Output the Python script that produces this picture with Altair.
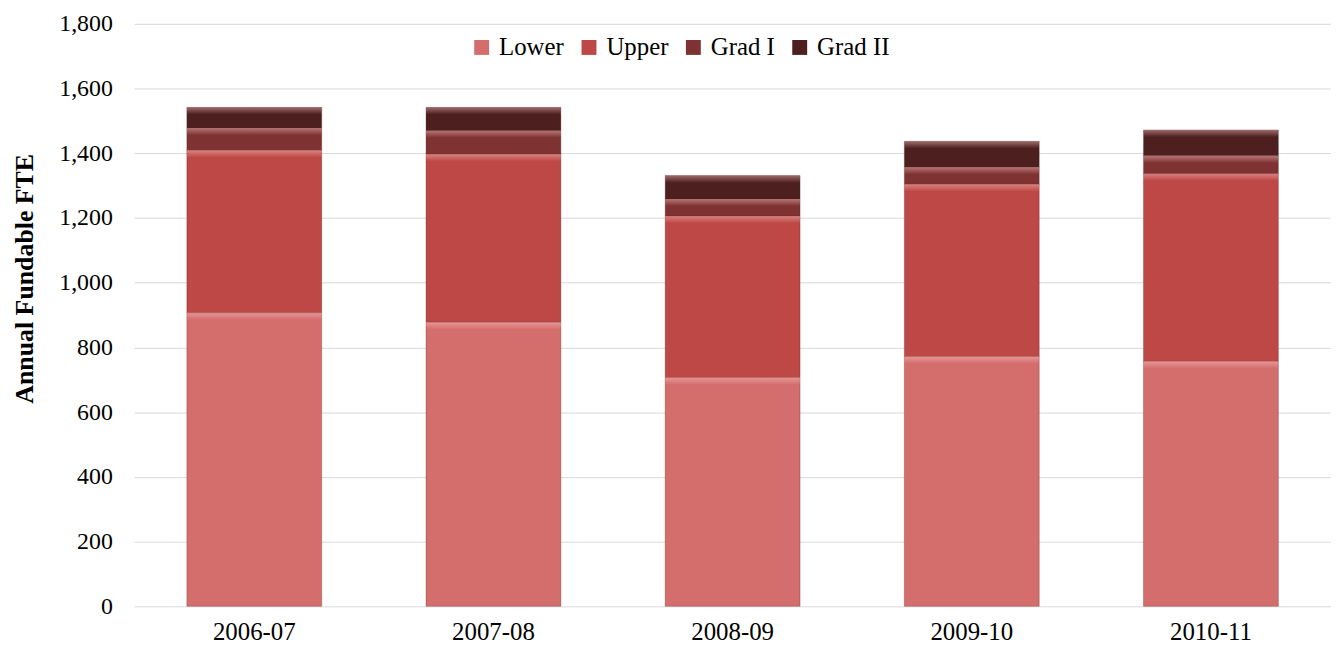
import altair as alt
import pandas as pd

years = ["2006-07", "2007-08", "2008-09", "2009-10", "2010-11"]
levels = ["Lower", "Upper", "Grad I", "Grad II"]
lower = [907, 878, 707, 772, 757]
upper = [502, 519, 499, 532, 580]
grad1 = [69, 73, 53, 53, 55]
grad2 = [64, 72, 72, 80, 80]
colors = ["#D46E6C", "#BE4845", "#7E3332", "#4D1F1F"]

rows = []
for i, y in enumerate(years):
    for k, (lev, vals) in enumerate(zip(levels, [lower, upper, grad1, grad2])):
        rows.append({"year": y, "level": lev, "order": k, "value": vals[i]})
df = pd.DataFrame(rows)

FONT = "Liberation Serif"

base = alt.Chart(df).transform_stack(
    stack="value", groupby=["year"], as_=["y0", "y1"],
    sort=[alt.SortField("order", order="ascending")]
)

xenc = alt.X("year:N", sort=years, title=None,
             scale=alt.Scale(paddingInner=0.436, paddingOuter=0.22),
             axis=alt.Axis(labelAngle=0, ticks=False, domain=False,
                           labelFontSize=25, labelFont=FONT, labelColor="#000",
                           labelPadding=13))

yenc = alt.Y("y0:Q", title="Annual Fundable FTE",
             scale=alt.Scale(domain=[0, 1800], nice=False),
             axis=alt.Axis(values=list(range(0, 1801, 200)), format=",d",
                           ticks=False, domain=False, grid=True,
                           gridColor="#D9D9D9", gridWidth=1,
                           labelFontSize=24, labelFont=FONT, labelColor="#000",
                           labelPadding=22, titleFont=FONT, titleFontSize=26,
                           titleFontWeight="bold", titleColor="#000",
                           titlePadding=21, titleY=256))

bars = base.mark_bar(stroke="#5a2020", strokeWidth=0.6, strokeOpacity=0.5).encode(
    x=xenc,
    y=yenc,
    y2="y1:Q",
    color=alt.Color("level:N", sort=levels,
                    scale=alt.Scale(domain=levels, range=colors),
                    legend=alt.Legend(title=None, orient="none", direction="horizontal",
                                      legendX=337, legendY=11,
                                      symbolType="square", symbolSize=225,
                                      symbolStrokeWidth=0,
                                      labelFont=FONT, labelFontSize=25,
                                      labelColor="#000", labelOffset=5,
                                      columnPadding=12)),
    order=alt.Order("order:Q"),
)

highlight = base.transform_calculate(h0="datum.y1 - 22").mark_bar(
    color=alt.Gradient(
        gradient="linear", x1=0, y1=0, x2=0, y2=1,
        stops=[alt.GradientStop(offset=0, color="rgba(255,200,200,0.45)"),
               alt.GradientStop(offset=1, color="rgba(255,200,200,0)")],
    )
).encode(
    x=alt.X("year:N", sort=years),
    y="h0:Q",
    y2="y1:Q",
)

chart = alt.layer(bars, highlight).properties(
    width=1204, height=586,
    autosize=alt.AutoSizeParams(type="none"),
    padding={"left": 127, "top": 14, "right": 0, "bottom": 42},
).configure_view(stroke=None)

chart.save("out.html", embed_options={"renderer": "svg", "actions": False})
